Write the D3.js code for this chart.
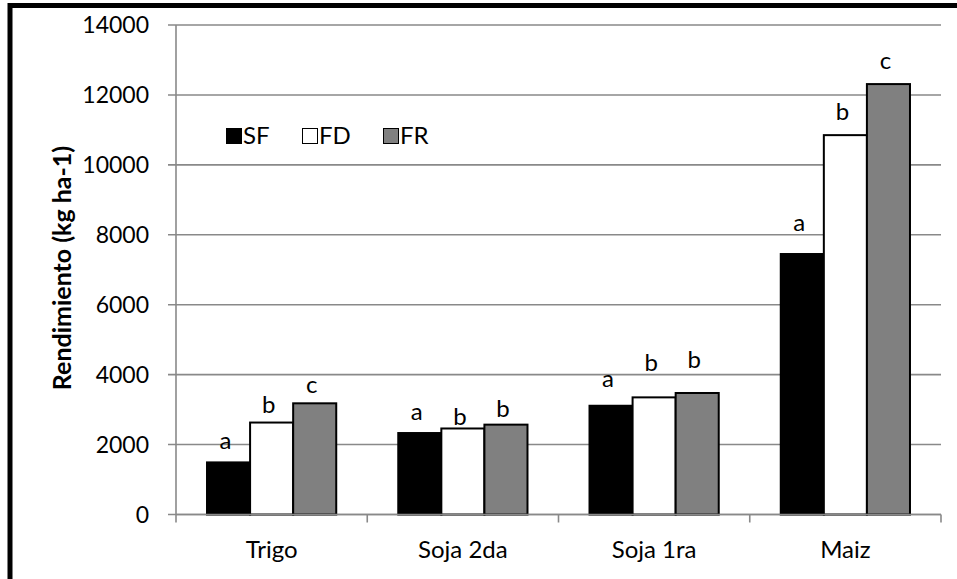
<!DOCTYPE html>
<html><head><meta charset="utf-8">
<script src="https://cdn.jsdelivr.net/npm/d3@7"></script>
<style>body{margin:0;background:#fff}svg{display:block}text{font-family:Lato,"Open Sans",sans-serif}</style>
</head><body><svg id="c" width="957" height="579"></svg>
<script>
const categories = ["Trigo", "Soja 2da", "Soja 1ra", "Maiz"];
const seriesNames = ["SF", "FD", "FR"];
const SF = [1490, 2330, 3110, 7450];
const FD = [2630, 2460, 3350, 10850];
const FR = [3180, 2570, 3475, 12310];
const letSF = ["a", "a", "a", "a"];
const letFD = ["b", "b", "b", "b"];
const letFR = ["c", "b", "b", "c"];
// baseline height (kg ha-1) of each significance letter as placed in the picture
const letPosSF = [1880, 2710, 3660, 8110];
const letPosFD = [2900, 2550, 4090, 11270];
const letPosFR = [3480, 2800, 4200, 12750];
const yTicks = [0, 2000, 4000, 6000, 8000, 10000, 12000, 14000];
const yTitle = "Rendimiento (kg ha-1)";

const colors = {SF: "#000000", FD: "#ffffff", FR: "#808080"};
const values = {SF, FD, FR};
const letters = {SF: letSF, FD: letFD, FR: letFR};
const letPos = {SF: letPosSF, FD: letPosFD, FR: letPosFR};

const svg = d3.select("#c");
const L = 176, R = 941, T = 25, B = 514.5;
const x0 = d3.scaleBand().domain(categories).range([L, R]).padding(0);
const x1 = d3.scaleBand().domain(seriesNames).range([0, x0.bandwidth()]).paddingInner(0).paddingOuter(0.72);
const y = d3.scaleLinear().domain([0, 14000]).range([B, T]);
const grid = "#898989";

// gridlines + y ticks
svg.append("g").selectAll("line").data(yTicks).join("line")
  .attr("x1", L - 8).attr("x2", R).attr("y1", d => y(d)).attr("y2", d => y(d))
  .attr("stroke", grid).attr("stroke-width", 1.6);
svg.append("g").selectAll("text").data(yTicks).join("text")
  .attr("x", 149).attr("y", d => y(d)).attr("dy", "0.36em").attr("text-anchor", "end")
  .attr("font-size", 23).attr("fill", "#000").text(d => d);
// y axis line
svg.append("line").attr("x1", L).attr("x2", L).attr("y1", T).attr("y2", B).attr("stroke", grid).attr("stroke-width", 1.6);

// bars
const g = svg.append("g");
categories.forEach((c, i) => {
  seriesNames.forEach(s => {
    const v = values[s][i];
    g.append("rect")
      .attr("x", x0(c) + x1(s)).attr("y", y(v))
      .attr("width", x1.bandwidth()).attr("height", y(0) - y(v))
      .attr("fill", colors[s]).attr("stroke", "#000").attr("stroke-width", 2);
    g.append("text")
      .attr("x", x0(c) + x1(s) + x1.bandwidth() / 2 - 3)
      .attr("y", y(letPos[s][i]))
      .attr("text-anchor", "middle").attr("font-size", 24).attr("fill", "#000")
      .text(letters[s][i]);
  });
});

// x axis line and ticks
svg.append("line").attr("x1", L).attr("x2", R).attr("y1", B).attr("y2", B).attr("stroke", grid).attr("stroke-width", 1.6);
const bounds = categories.map(c => x0(c)).concat([R]);
svg.append("g").selectAll("line").data(bounds).join("line")
  .attr("x1", d => d).attr("x2", d => d).attr("y1", B).attr("y2", B + 8)
  .attr("stroke", grid).attr("stroke-width", 1.6);
svg.append("g").selectAll("text").data(categories).join("text")
  .attr("x", d => x0(d) + x0.bandwidth() / 2).attr("y", 557.5)
  .attr("text-anchor", "middle").attr("font-size", 24).attr("fill", "#000").text(d => d);

// y title
svg.append("text").attr("transform", "translate(71,268) rotate(-90)")
  .attr("text-anchor", "middle").attr("font-size", 25).attr("font-weight", "bold").attr("fill", "#000")
  .text(yTitle);

// legend
const legX = [226, 302, 383];
seriesNames.forEach((s, i) => {
  svg.append("rect").attr("x", legX[i] + 0.5).attr("y", 128.5).attr("width", 15).attr("height", 15)
    .attr("fill", colors[s]).attr("stroke", "#000").attr("stroke-width", 1);
  svg.append("text").attr("x", legX[i] + 17).attr("y", 143.5)
    .attr("font-size", 24).attr("fill", "#000").text(s);
});

// outer border
svg.append("rect").attr("x", 10).attr("y", 5.5).attr("width", 960).attr("height", 590)
  .attr("fill", "none").attr("stroke", "#000").attr("stroke-width", 5);
</script></body></html>
